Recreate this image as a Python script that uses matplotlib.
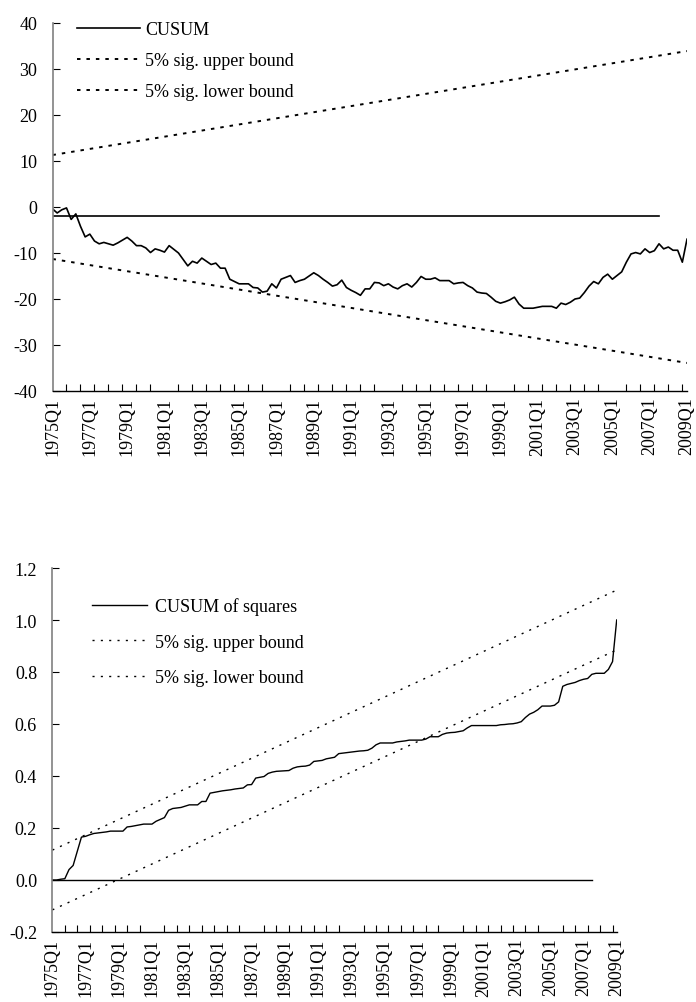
import matplotlib
matplotlib.use("Agg")
import matplotlib.pyplot as plt
import numpy as np

plt.rcParams["font.family"] = ["Liberation Serif", "DejaVu Serif"]
plt.rcParams["lines.scale_dashes"] = False

# quarterly categories 1975Q1 .. 2009Q1
quarters = [f"{y}Q{q}" for y in range(1975, 2010) for q in range(1, 5)][:137]

cusum = [
    -0.4, -1.3, -0.6, -0.2, -2.7, -1.5, -4.2, -6.5, -5.9, -7.4,
    -8.0, -7.7, -8.0, -8.3, -7.8, -7.2, -6.6, -7.4, -8.4, -8.4,
    -8.9, -9.9, -9.1, -9.4, -9.8, -8.4, -9.2, -10.0, -11.4, -12.8,
    -11.8, -12.2, -11.1, -11.8, -12.5, -12.2, -13.3, -13.3, -15.7, -16.2,
    -16.7, -16.7, -16.7, -17.5, -17.6, -18.5, -18.3, -16.7, -17.6, -15.7,
    -15.3, -14.9, -16.4, -16.0, -15.7, -15.0, -14.3, -14.9, -15.7, -16.4,
    -17.2, -16.9, -15.9, -17.5, -18.1, -18.6, -19.2, -17.8, -17.8, -16.4,
    -16.5, -17.1, -16.7, -17.4, -17.8, -17.1, -16.7, -17.4, -16.4, -15.1,
    -15.7, -15.7, -15.4, -16.0, -16.0, -16.0, -16.7, -16.5, -16.4, -17.1,
    -17.6, -18.5, -18.7, -18.8, -19.6, -20.5, -20.9, -20.6, -20.2, -19.6,
    -21.1, -22.0, -22.0, -22.0, -21.8, -21.6, -21.6, -21.6, -22.0, -20.9,
    -21.2, -20.7, -20.0, -19.8, -18.6, -17.2, -16.2, -16.7, -15.3, -14.6,
    -15.7, -14.9, -14.1, -12.0, -10.2, -9.9, -10.2, -9.1, -9.9, -9.5,
    -8.0, -9.1, -8.7, -9.4, -9.4, -12.0, -7.0,
]
cusum_upper = [11.3, 33.9]   # first and last quarter
cusum_lower = [-11.3, -33.9]
cusum_ref = -2.0             # flat reference line, 1975Q1..2007Q3
ref_last = "2007Q3"

cusum_sq = [
    0.0, 0.0, 0.003, 0.005, 0.04, 0.056, 0.11, 0.165, 0.168, 0.174,
    0.179, 0.181, 0.183, 0.185, 0.188, 0.188, 0.188, 0.188, 0.204, 0.206,
    0.209, 0.212, 0.215, 0.215, 0.215, 0.226, 0.233, 0.240, 0.268, 0.275,
    0.277, 0.279, 0.284, 0.289, 0.289, 0.289, 0.302, 0.302, 0.334, 0.337,
    0.340, 0.343, 0.345, 0.347, 0.350, 0.352, 0.354, 0.366, 0.367, 0.392,
    0.395, 0.398, 0.410, 0.415, 0.418, 0.419, 0.420, 0.421, 0.430, 0.435,
    0.437, 0.438, 0.442, 0.456, 0.458, 0.460, 0.466, 0.469, 0.472, 0.486,
    0.488, 0.490, 0.492, 0.494, 0.496, 0.497, 0.499, 0.507, 0.520, 0.527,
    0.527, 0.527, 0.527, 0.531, 0.533, 0.535, 0.538, 0.538, 0.538, 0.538,
    0.542, 0.551, 0.551, 0.551, 0.560, 0.565, 0.567, 0.568, 0.571, 0.574,
    0.585, 0.594, 0.594, 0.594, 0.594, 0.594, 0.594, 0.594, 0.597, 0.598,
    0.600, 0.601, 0.604, 0.609, 0.625, 0.638, 0.645, 0.655, 0.669, 0.669,
    0.669, 0.672, 0.685, 0.745, 0.752, 0.756, 0.760, 0.767, 0.772, 0.775,
    0.791, 0.795, 0.795, 0.795, 0.81, 0.84, 1.0,
]
sq_upper = [0.115, 1.115]
sq_lower = [-0.115, 0.885]
sq_ref = 0.0

top_yticks = [-40, -30, -20, -10, 0, 10, 20, 30, 40]
bot_yticks = [-0.2, 0.0, 0.2, 0.4, 0.6, 0.8, 1.0, 1.2]

x = np.arange(len(quarters))
ends = [0, len(quarters) - 1]
ref_x = x[: quarters.index(ref_last) + 1]

FS = 13
fig = plt.figure(figsize=(6.96, 10.03), dpi=100)


def style_axis(ax, yticks, fmt):
    ax.set_xlim(0, len(quarters) - 1)
    ax.set_ylim(yticks[0], yticks[-1])
    ax.set_yticks(yticks)
    ax.set_yticklabels([fmt.format(v) for v in yticks], fontsize=FS)
    ax.set_xticks(x[::8])
    ax.set_xticklabels(quarters[::8], rotation=90, fontsize=FS)
    ax.set_xticks(x[::3], minor=True)
    ax.tick_params(axis="x", which="major", length=0, pad=4)
    ax.tick_params(axis="x", which="minor", direction="in", length=5, width=0.8)
    ax.tick_params(axis="y", direction="in", length=5, width=0.8, pad=11)
    for s in ("top", "right"):
        ax.spines[s].set_visible(False)
    ax.spines["left"].set_color("#808080")
    ax.spines["left"].set_linewidth(1.2)
    ax.spines["bottom"].set_linewidth(1.0)


# CUSUM
ax1 = fig.add_axes([52.5 / 696, 1 - 392 / 1003, 634.5 / 696, 368 / 1003])
ax1.plot(x, cusum, color="black", lw=1.2, label="CUSUM")
ax1.plot(ends, cusum_upper, color="black", lw=1.4, dashes=(2.5, 4.3),
         label="5% sig. upper bound")
ax1.plot(ends, cusum_lower, color="black", lw=1.4, dashes=(2.5, 4.3),
         label="5% sig. lower bound")
ax1.plot(ref_x, np.full(len(ref_x), cusum_ref), color="black", lw=1.2)
style_axis(ax1, top_yticks, "{:d}")
ax1.legend(loc="upper left", bbox_to_anchor=(77 / 696, 1 - 22 / 1003),
           bbox_transform=fig.transFigure, frameon=False, fontsize=FS,
           handlelength=3.5, handletextpad=0.28, labelspacing=0.78, borderpad=0,
           borderaxespad=0)

# CUSUM of squares
ax2 = fig.add_axes([52.4 / 696, 1 - 933 / 1003, 564.3 / 696, 364 / 1003])
ax2.plot(x, cusum_sq, color="black", lw=1.0, label="CUSUM of squares")
ax2.plot(ends, sq_upper, color="black", lw=1.0, dashes=(1.5, 4.5),
         label="5% sig. upper bound")
ax2.plot(ends, sq_lower, color="black", lw=1.0, dashes=(1.5, 4.5),
         label="5% sig. lower bound")
ax2.plot(ref_x, np.full(len(ref_x), sq_ref), color="black", lw=1.0)
style_axis(ax2, bot_yticks, "{:.1f}")
ax2.legend(loc="upper left", bbox_to_anchor=(92 / 696, 1 - 598 / 1003),
           bbox_transform=fig.transFigure, frameon=False, fontsize=FS,
           handlelength=3.05, handletextpad=0.45, labelspacing=1.04, borderpad=0,
           borderaxespad=0)

fig.savefig("out.png", dpi=100)
